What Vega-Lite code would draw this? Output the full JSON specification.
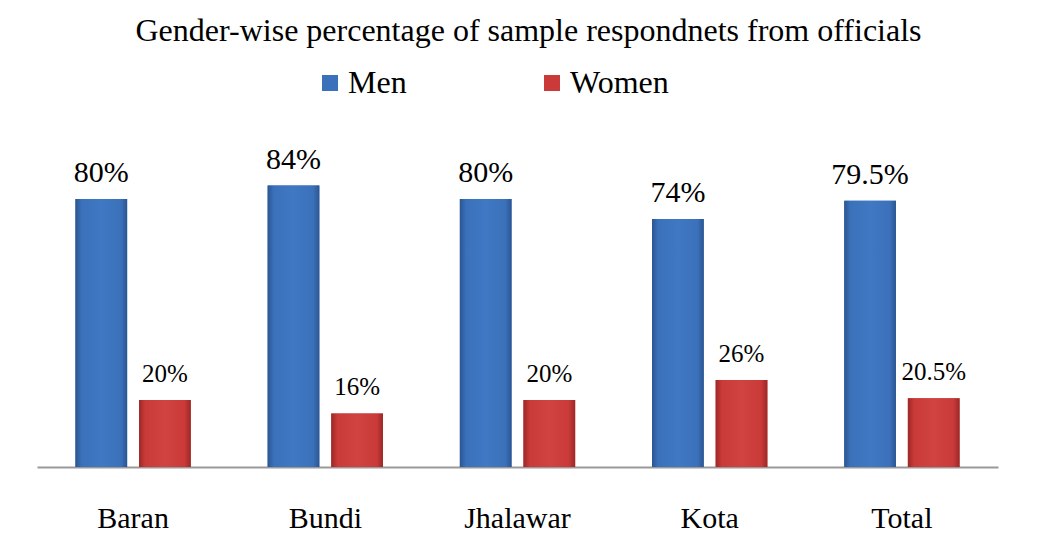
{
  "$schema": "https://vega.github.io/schema/vega-lite/v6.json",
  "autosize": "none",
  "width": 961,
  "height": 335,
  "padding": {"left": 37, "top": 132, "right": 45, "bottom": 70},
  "background": "white",
  "config": {
    "view": {"stroke": null},
    "font": "Liberation Serif"
  },
  "title": {
    "text": "Gender-wise percentage of sample respondnets from officials",
    "fontSize": 32,
    "fontWeight": "normal",
    "font": "Liberation Serif",
    "color": "black",
    "anchor": "middle",
    "baseline": "alphabetic",
    "offset": -6,
    "dx": 11
  },
  "data": {
    "values": [
      {"district": "Baran", "gender": "Men", "value": 80},
      {"district": "Baran", "gender": "Women", "value": 20},
      {"district": "Bundi", "gender": "Men", "value": 84},
      {"district": "Bundi", "gender": "Women", "value": 16},
      {"district": "Jhalawar", "gender": "Men", "value": 80},
      {"district": "Jhalawar", "gender": "Women", "value": 20},
      {"district": "Kota", "gender": "Men", "value": 74},
      {"district": "Kota", "gender": "Women", "value": 26},
      {"district": "Total", "gender": "Men", "value": 79.5},
      {"district": "Total", "gender": "Women", "value": 20.5}
    ]
  },
  "transform": [{"calculate": "datum.value + '%'", "as": "label"}],
  "encoding": {
    "x": {
      "field": "district",
      "type": "nominal",
      "sort": null,
      "scale": {"paddingInner": 0.4, "paddingOuter": 0.2},
      "axis": {
        "title": null,
        "labelAngle": 0,
        "labelFontSize": 30,
        "labelFont": "Liberation Serif",
        "labelColor": "black",
        "labelBaseline": "alphabetic",
        "labelPadding": 60,
        "ticks": false,
        "domainColor": "#999999",
        "domainWidth": 2
      }
    },
    "xOffset": {
      "field": "gender",
      "type": "nominal",
      "scale": {"paddingInner": 0.1875, "paddingOuter": 0}
    },
    "y": {
      "field": "value",
      "type": "quantitative",
      "scale": {"domain": [0, 100]},
      "axis": null
    }
  },
  "layer": [
    {
      "mark": {"type": "bar"},
      "encoding": {
        "color": {
          "field": "gender",
          "type": "nominal",
          "scale": {"domain": ["Men", "Women"], "range": ["#3B71BA", "#C93A38"]},
          "legend": {
            "title": null,
            "orient": "none",
            "legendX": 277,
            "legendY": -65,
            "direction": "horizontal",
            "columns": 2,
            "columnPadding": 129,
            "symbolType": "square",
            "symbolSize": 256,
            "symbolStrokeWidth": 0,
            "symbolOpacity": 1,
            "labelFontSize": 32,
            "labelFont": "Liberation Serif",
            "labelColor": "black",
            "labelOffset": 2
          }
        }
      }
    },
    {
      "transform": [{"filter": "datum.gender === 'Men'"}],
      "mark": {
        "type": "bar",
        "fill": {"gradient": "linear", "x1": 0, "y1": 0, "x2": 1, "y2": 0,
          "stops": [
            {"offset": 0, "color": "#2B5592"},
            {"offset": 0.12, "color": "#3B71BA"},
            {"offset": 0.5, "color": "#3F78C3"},
            {"offset": 0.88, "color": "#3B71BA"},
            {"offset": 1, "color": "#2B5592"}
          ]}
      },
      "encoding": {}
    },
    {
      "transform": [{"filter": "datum.gender === 'Women'"}],
      "mark": {
        "type": "bar",
        "fill": {"gradient": "linear", "x1": 0, "y1": 0, "x2": 1, "y2": 0,
          "stops": [
            {"offset": 0, "color": "#9C2827"},
            {"offset": 0.12, "color": "#C93A38"},
            {"offset": 0.5, "color": "#D04341"},
            {"offset": 0.88, "color": "#C93A38"},
            {"offset": 1, "color": "#9C2827"}
          ]}
      },
      "encoding": {}
    },
    {
      "transform": [{"filter": "datum.gender === 'Men'"}],
      "mark": {"type": "text", "baseline": "alphabetic", "dy": -17, "fontSize": 30, "font": "Liberation Serif", "color": "black"},
      "encoding": {"text": {"field": "label"}}
    },
    {
      "transform": [{"filter": "datum.gender === 'Women'"}],
      "mark": {"type": "text", "baseline": "alphabetic", "dy": -18, "fontSize": 25, "font": "Liberation Serif", "color": "black"},
      "encoding": {"text": {"field": "label"}}
    }
  ]
}
